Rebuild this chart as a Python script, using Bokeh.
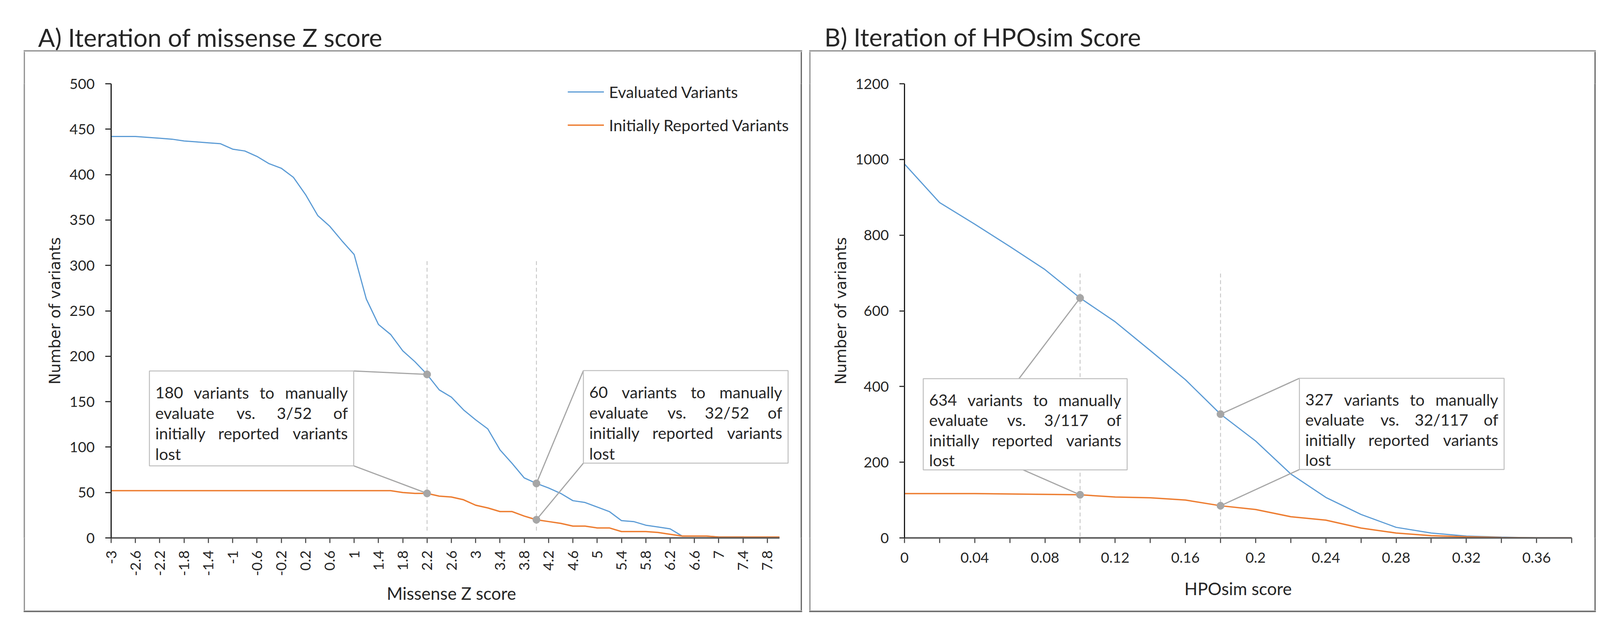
import math
from bokeh.plotting import figure
from bokeh.models import (Range1d, FixedTicker, CustomJSTickFormatter, Legend, LegendItem, Spacer)
from bokeh.layouts import row, column
from bokeh.embed import file_html
from bokeh.resources import INLINE
from bokeh.core.properties import value

# ---------------------------------------------------------------- data
missense_z = [-3.0, -2.8, -2.6, -2.4, -2.2, -2.0, -1.8, -1.6, -1.4, -1.2,
              -1.0, -0.8, -0.6, -0.4, -0.2, 0.0, 0.2, 0.4, 0.6, 0.8,
              1.0, 1.2, 1.4, 1.6, 1.8, 2.0, 2.2, 2.4, 2.6, 2.8,
              3.0, 3.2, 3.4, 3.6, 3.8, 4.0, 4.2, 4.4, 4.6, 4.8,
              5.0, 5.2, 5.4, 5.6, 5.8, 6.0, 6.2, 6.4, 6.6, 6.8,
              7.0, 7.2, 7.4, 7.6, 7.8, 8.0]
evaluated_z = [442, 442, 442, 441, 440, 439, 437, 436, 435, 434,
               428, 426, 420, 412, 407, 397, 378, 355, 343, 327,
               312, 263, 235, 224, 206, 194, 180, 163, 155, 141,
               130, 120, 97, 82, 66, 60, 55, 49, 41, 39,
               34, 29, 19, 18, 14, 12, 10, 2, 2, 2,
               1, 1, 1, 0, 0, 0]
reported_z = [52, 52, 52, 52, 52, 52, 52, 52, 52, 52,
              52, 52, 52, 52, 52, 52, 52, 52, 52, 52,
              52, 52, 52, 52, 50, 49, 49, 46, 45, 42,
              36, 33, 29, 29, 24, 20, 18, 16, 13, 13,
              11, 11, 7, 7, 7, 6, 4, 2, 2, 2,
              1, 1, 1, 1, 1, 1]
z_tick_labels = ["-3", "-2.6", "-2.2", "-1.8", "-1.4", "-1", "-0.6", "-0.2", "0.2", "0.6",
                 "1", "1.4", "1.8", "2.2", "2.6", "3", "3.4", "3.8", "4.2", "4.6",
                 "5", "5.4", "5.8", "6.2", "6.6", "7", "7.4", "7.8"]
z_y_ticks = [0, 50, 100, 150, 200, 250, 300, 350, 400, 450, 500]
z_cuts = [2.2, 4.0]
z_callouts = [["180 variants to manually", "evaluate vs. 3/52 of", "initially reported variants", "lost"],
              ["60 variants to manually", "evaluate vs. 32/52 of", "initially reported variants", "lost"]]

hposim = [0.0, 0.02, 0.04, 0.06, 0.08, 0.1, 0.12, 0.14, 0.16, 0.18,
          0.2, 0.22, 0.24, 0.26, 0.28, 0.3, 0.32, 0.34, 0.36, 0.38]
evaluated_h = [988, 886, 829, 770, 709, 634, 571, 495, 418, 327,
               256, 169, 107, 62, 28, 13, 5, 2, 0, 0]
reported_h = [117, 117, 117, 116, 115, 114, 108, 106, 100, 85,
              75, 56, 47, 26, 13, 6, 3, 1, 0, 0]
h_tick_labels = ["0", "0.04", "0.08", "0.12", "0.16", "0.2", "0.24", "0.28", "0.32", "0.36"]
h_y_ticks = [0, 200, 400, 600, 800, 1000, 1200]
h_cuts = [0.1, 0.18]
h_callouts = [["634 variants to manually", "evaluate vs. 3/117 of", "initially reported variants", "lost"],
              ["327 variants to manually", "evaluate vs. 32/117 of", "initially reported variants", "lost"]]

series_names = ["Evaluated Variants", "Initially Reported Variants"]
panel_titles = ["A) Iteration of missense Z score", "B) Iteration of HPOsim Score"]

# ---------------------------------------------------------------- styling / layout (page pixels)
BLUE, ORANGE, GREY = "#5B9BD5", "#ED7D31", "#A6A6A6"
TXT = "#262626"
FONT = "Lato"
PAGE_L, PAGE_T, PAGE_R, PAGE_B = 8, 8, 4136, 1613
BODY_T, BODY_B = 140, 1571          # page rows occupied by the two chart figures
BODY_H = BODY_B - BODY_T
EDGE_TL, EDGE_BR = "#959595", "#6A6A6A"
BOXES = [(68, 136, 2061, 1575), (2079, 136, 4093, 1575)]   # chart-area boxes, outer edge
BW = 4

GA = dict(cl=72, cw=1985, fl=292, fr=2034, ft=222, fb=1400,
          xr=(-3.0, 8.2), yr=(0, 500),
          callout_boxes=[(390, 967, 913, 1213), (1501, 966, 2025, 1206)],
          anchors=[((913, 967), (913, 1213)), ((1501, 966), (1501, 1206))])
GB = dict(cl=2083, cw=2006, fl=2323, fr=4031, ft=190, fb=1385,
          xr=(0.0, 0.38), yr=(0, 1200),
          callout_boxes=[(2371, 966, 2893, 1206), (3334, 965, 3858, 1205)],
          anchors=[((2616, 966), (2627, 1206)), ((3334, 965), (3334, 1205))])
TITLE_POS = [(105, 103), (2118, 102)]

LATO_W = {'a': .49, 'b': .56, 'c': .46, 'd': .56, 'e': .53, 'f': .33, 'g': .50, 'h': .56,
          'i': .23, 'j': .23, 'k': .50, 'l': .23, 'm': .85, 'n': .56, 'o': .56, 'p': .56,
          'q': .56, 'r': .37, 's': .42, 't': .35, 'u': .56, 'v': .51, 'w': .77, 'x': .49,
          'y': .51, 'z': .46, '.': .21, '/': .37, ' ': .193}


def tw(s, size):
    return sum(LATO_W.get(c, .58) for c in s) * size


def conv(g):
    fx = (g["xr"][1] - g["xr"][0]) / (g["fr"] - g["fl"])
    fy = (g["yr"][1] - g["yr"][0]) / (g["fb"] - g["ft"])
    return (lambda px: g["xr"][0] + (px - g["fl"]) * fx,
            lambda py: g["yr"][0] + (g["fb"] - py) * fy)


def no_title(f):
    """Make sure the (empty) default title takes no room above the frame."""
    if f.title is not None:
        f.title.text = ""
        f.title.visible = False
        f.title.standoff = 0
        f.title.text_font_size = "0px"
    return f


def strip(x0, x1, y0, y1):
    """A plain figure whose data coordinates are page pixels (y downwards)."""
    s = figure(width=x1 - x0, height=y1 - y0, output_backend="svg", toolbar_location=None,
               x_axis_type=None, y_axis_type=None, min_border=0,
               x_range=Range1d(x0, x1), y_range=Range1d(y1, y0),
               background_fill_color="white", border_fill_color="white",
               outline_line_color=None)
    s.grid.visible = False
    return no_title(s)


def vbar(color):
    b = figure(width=BW, height=BODY_H, output_backend="svg", toolbar_location=None,
               x_axis_type=None, y_axis_type=None, min_border=0,
               background_fill_color=color, border_fill_color=color, outline_line_color=None)
    b.grid.visible = False
    return no_title(b)


def build(g, cats, evals, reps, tick_labels, y_ticks, xlabel, cuts, callouts,
          rotate, with_legend, minor):
    X, Y = conv(g)
    p = figure(width=g["cw"], height=BODY_H, x_range=Range1d(*g["xr"]),
               y_range=Range1d(*g["yr"]), output_backend="svg", toolbar_location=None,
               min_border_left=g["fl"] - g["cl"], min_border_right=g["cl"] + g["cw"] - g["fr"],
               min_border_top=g["ft"] - BODY_T, min_border_bottom=BODY_B - g["fb"],
               background_fill_color="white", border_fill_color="white")
    no_title(p)
    p.grid.visible = False
    p.outline_line_color = None

    # axes
    tick_vals = [float(s) for s in tick_labels]
    minor_vals = [c for c in cats if minor and not any(abs(c - t) < 1e-9 for t in tick_vals)]
    xa = p.xaxis[0]
    xa.ticker = FixedTicker(ticks=tick_vals, minor_ticks=minor_vals)
    xa.formatter = CustomJSTickFormatter(args=dict(vals=tick_vals, labels=tick_labels), code="""
        let k = 0;
        for (let i = 0; i < vals.length; i++) {
            if (Math.abs(vals[i] - tick) < Math.abs(vals[k] - tick)) k = i;
        }
        return labels[k];""")
    xa.bounds = (cats[0], cats[-1])
    xa.axis_line_color = "#595959"
    xa.axis_line_width = 4
    xa.major_tick_line_color = "#595959"
    xa.major_tick_line_width = 3
    xa.major_tick_out = 13
    xa.major_tick_in = 0
    xa.minor_tick_line_color = "#595959"
    xa.minor_tick_line_width = 3
    xa.minor_tick_out = 13
    xa.minor_tick_in = 0
    xa.major_label_text_font = FONT
    xa.major_label_text_font_size = "37px"
    xa.major_label_text_color = TXT
    xa.major_label_standoff = 19 if rotate else 24
    if rotate:
        xa.major_label_orientation = math.pi / 2
    xa.axis_label = xlabel
    xa.axis_label_text_font = FONT
    xa.axis_label_text_font_size = "44px"
    xa.axis_label_text_font_style = "normal"
    xa.axis_label_text_color = TXT
    xa.axis_label_standoff = 15 if rotate else 37

    ya = p.yaxis[0]
    ya.ticker = FixedTicker(ticks=y_ticks)
    ya.axis_line_color = "#1a1a1a"
    ya.axis_line_width = 3
    ya.major_tick_line_color = "#333333"
    ya.major_tick_line_width = 3
    ya.major_tick_out = 15 if rotate else 13
    ya.major_tick_in = 0
    ya.minor_tick_line_color = None
    ya.major_label_text_font = FONT
    ya.major_label_text_font_size = "37px"
    ya.major_label_text_color = TXT
    ya.major_label_standoff = 27
    ya.axis_label = "Number of variants"
    ya.axis_label_text_font = "DejaVu Sans"
    ya.axis_label_text_font_size = "39px"
    ya.axis_label_text_font_style = "normal"
    ya.axis_label_text_color = TXT
    ya.axis_label_standoff = 12

    # dashed threshold guides
    p.segment(x0=cuts, x1=cuts, y0=[Y(1381)] * len(cuts), y1=[Y(682)] * len(cuts),
              line_color="#BFBFBF", line_width=2, line_dash="10 7")

    # data series
    rb = p.line(cats, evals, line_color=BLUE, line_width=3)
    ro = p.line(cats, reps, line_color=ORANGE, line_width=3.5)

    if with_legend:
        leg = Legend(items=[LegendItem(label=series_names[0], renderers=[rb]),
                            LegendItem(label=series_names[1], renderers=[ro])],
                     location=(1461 - g["fl"], g["fb"] - 373),
                     glyph_width=93, glyph_height=60, label_height=60, label_standoff=13,
                     spacing=25, padding=0, margin=0, border_line_alpha=0,
                     background_fill_alpha=0, label_text_font=FONT,
                     label_text_font_size="41px", label_text_color=TXT)
        p.add_layout(leg)

    # callouts
    idx = [min(range(len(cats)), key=lambda i: abs(cats[i] - c)) for c in cuts]
    pe = [(cats[i], evals[i]) for i in idx]
    pr = [(cats[i], reps[i]) for i in idx]
    x0, y0, x1, y1 = [], [], [], []
    for k, (a_top, a_bot) in enumerate(g["anchors"]):
        x0 += [X(a_top[0]), X(a_bot[0])]
        y0 += [Y(a_top[1]), Y(a_bot[1])]
        x1 += [pe[k][0], pr[k][0]]
        y1 += [pe[k][1], pr[k][1]]
    p.segment(x0=x0, y0=y0, x1=x1, y1=y1, line_color=GREY, line_width=3)

    bl, br, bt, bb = [], [], [], []
    for (l2, t2, r2, b2) in g["callout_boxes"]:
        bl.append(X(l2)); br.append(X(r2)); bt.append(Y(t2)); bb.append(Y(b2))
    p.quad(left=bl, right=br, top=bt, bottom=bb, fill_color="white",
           line_color="#BFBFBF", line_width=2.5)

    p.scatter([q[0] for q in pe + pr], [q[1] for q in pe + pr], marker="circle",
              size=19, fill_color=GREY, line_color=GREY)

    size = 41
    words = {"left": ([], [], []), "center": ([], [], []), "right": ([], [], [])}
    for (l2, t2, r2, b2), lines in zip(g["callout_boxes"], callouts):
        left, right = l2 + 15, r2 - 15
        for i, line in enumerate(lines):
            yb = Y(t2 + 56 + 53 * i)
            ws = line.split(" ")
            if i == len(lines) - 1 or len(ws) == 1:
                for arr, v in zip(words["left"], (X(left), yb, line)):
                    arr.append(v)
                continue
            wid = [tw(w, size) for w in ws]
            gap = (right - left - sum(wid)) / (len(ws) - 1)
            xc = left
            for j, (w, wd) in enumerate(zip(ws, wid)):
                if j == 0:
                    key, xp = "left", left
                elif j == len(ws) - 1:
                    key, xp = "right", right
                else:
                    key, xp = "center", xc + wd / 2
                words[key][0].append(X(xp)); words[key][1].append(yb); words[key][2].append(w)
                xc += wd + gap
    for key, (xs, ys, ts) in words.items():
        p.text(x=xs, y=ys, text=ts, text_align=key, text_baseline="alphabetic",
               text_font=value(FONT), text_font_size=value(f"{size}px"), text_color=TXT)
    return p


pA = build(GA, missense_z, evaluated_z, reported_z, z_tick_labels, z_y_ticks,
           "Missense Z score", z_cuts, z_callouts, rotate=True, with_legend=True, minor=False)
pB = build(GB, hposim, evaluated_h, reported_h, h_tick_labels, h_y_ticks,
           "HPOsim score", h_cuts, h_callouts, rotate=False, with_legend=False, minor=True)

# top strip: panel titles + top edges of the chart-area boxes
top = strip(PAGE_L, PAGE_R, PAGE_T, BODY_T)
top.text(x=[x for x, _ in TITLE_POS], y=[y for _, y in TITLE_POS], text=panel_titles,
         text_align="left", text_baseline="alphabetic",
         text_font=value(FONT), text_font_size=value("64px"), text_color=TXT)
top.quad(left=[b[0] for b in BOXES], right=[b[2] for b in BOXES],
         top=[b[1] for b in BOXES], bottom=[b[1] + BW for b in BOXES],
         fill_color=EDGE_TL, line_color=None)

# bottom strip: bottom edges of the chart-area boxes
bottom = strip(PAGE_L, PAGE_R, BODY_B, PAGE_B)
bottom.quad(left=[b[0] for b in BOXES], right=[b[2] for b in BOXES],
            top=[b[3] - BW for b in BOXES], bottom=[b[3] for b in BOXES],
            fill_color=EDGE_BR, line_color=None)

gap_l = BOXES[0][0] - PAGE_L
gap_m = BOXES[1][0] - BOXES[0][2]
gap_r = PAGE_R - BOXES[1][2]
body = row(Spacer(width=gap_l, height=BODY_H), vbar(EDGE_TL), pA, vbar(EDGE_BR),
           Spacer(width=gap_m, height=BODY_H), vbar(EDGE_TL), pB, vbar(EDGE_BR),
           Spacer(width=gap_r, height=BODY_H))

layout = column(top, body, bottom)
open("out.html", "w").write(file_html(layout, INLINE))
